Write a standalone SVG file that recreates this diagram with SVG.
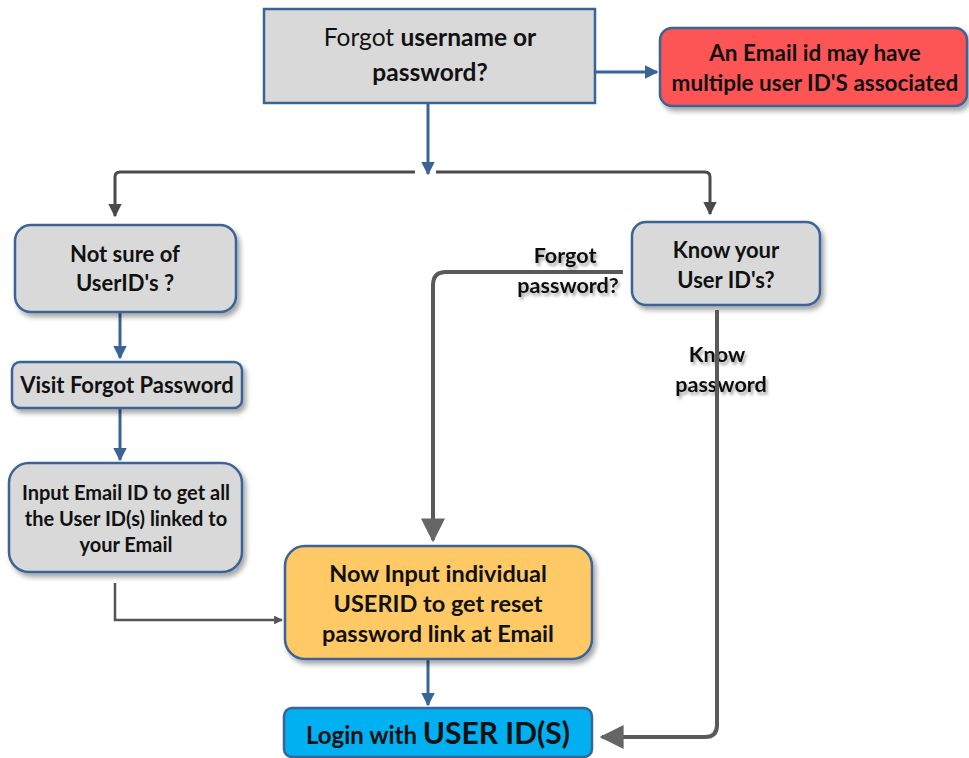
<svg xmlns="http://www.w3.org/2000/svg" width="969" height="758" viewBox="0 0 969 758">
<defs>
<filter id="sh" x="-10%" y="-10%" width="130%" height="140%">
<feDropShadow dx="3" dy="4" stdDeviation="2.5" flood-color="#000" flood-opacity="0.35"/>
</filter>
<filter id="tsh" x="-10%" y="-20%" width="130%" height="160%">
<feDropShadow dx="2" dy="3" stdDeviation="1.5" flood-color="#000" flood-opacity="0.35"/>
</filter>
<marker id="ab" viewBox="0 0 10 10" refX="9" refY="5" markerWidth="4.5" markerHeight="4.5" orient="auto" markerUnits="strokeWidth">
<path d="M0,0 L10,5 L0,10 z" fill="#3a6396"/>
</marker>
<marker id="ag" viewBox="0 0 10 10" refX="9" refY="5" markerWidth="4.5" markerHeight="4.5" orient="auto" markerUnits="strokeWidth">
<path d="M0,0 L10,5 L0,10 z" fill="#4a4a4a"/>
</marker>
<marker id="ag2" viewBox="0 0 10 10" refX="9" refY="5" markerWidth="3.5" markerHeight="3.5" orient="auto" markerUnits="strokeWidth">
<path d="M0,0 L10,5 L0,10 z" fill="#555"/>
</marker>
<marker id="ag3" viewBox="0 0 10 10" refX="9" refY="5" markerWidth="6" markerHeight="6" orient="auto" markerUnits="strokeWidth">
<path d="M0,0 L10,5 L0,10 z" fill="#666"/>
</marker>
</defs>
<style>
text{font-family:Lato,"Open Sans",sans-serif;fill:#111;text-anchor:middle}
.b{font-weight:bold}
.box{stroke:#3a6396;stroke-width:2.5}
.grey{fill:#d9d9d9}
.blue{fill:none;stroke:#3a6396;stroke-width:3}
.gl{fill:none;stroke:#4a4a4a;stroke-width:3}
.gt{fill:none;stroke:#595959;stroke-width:4}
.lbl{font-weight:bold;font-size:21.5px;filter:url(#tsh)}
</style>

<g id="connectors">
<line class="blue" x1="595" y1="72" x2="657" y2="72" marker-end="url(#ab)"/>
<line class="blue" x1="428" y1="103" x2="428" y2="174" marker-end="url(#ab)"/>
<path class="gl" d="M415,172 H120 Q115,172 115,177 V216" marker-end="url(#ag)"/>
<path class="gl" d="M436,172 H705 Q710,172 710,177 V214" marker-end="url(#ag)"/>
<line class="blue" x1="120" y1="312" x2="120" y2="358" marker-end="url(#ab)"/>
<line class="blue" x1="120" y1="408" x2="120" y2="460" marker-end="url(#ab)"/>
<path fill="none" stroke="#555" stroke-width="2.5" d="M115,583 V620 H282" marker-end="url(#ag2)"/>
<path class="gt" d="M623,272 H446 Q433,272 433,285 V540" marker-end="url(#ag3)"/>
<line class="blue" x1="428" y1="659" x2="428" y2="705" marker-end="url(#ab)"/>
</g>

<g id="n-top">
<rect class="box grey" x="264" y="9" width="331" height="94"/>
<text x="430" y="46" font-size="24.5">Forgot <tspan class="b">username or</tspan></text>
<text x="430" y="81" font-size="24.5" class="b">password?</text>
</g>

<g id="n-note">
<rect class="box" x="660" y="28" width="307" height="78" rx="12" fill="#fd5454" filter="url(#sh)"/>
<text x="815" y="61" font-size="22.5" class="b">An Email id may have</text>
<text x="815" y="91" font-size="22.5" class="b">multiple user ID'S associated</text>
</g>

<g id="n-notsure">
<rect class="box grey" x="15" y="225" width="221" height="87" rx="16" filter="url(#sh)"/>
<text x="125" y="262" font-size="22" class="b">Not sure of</text>
<text x="125" y="291" font-size="22" class="b">UserID's ?</text>
</g>

<g id="n-visit">
<rect class="box grey" x="12" y="362" width="230" height="46" rx="8" filter="url(#sh)"/>
<text x="127" y="393" font-size="22" class="b">Visit Forgot Password</text>
</g>

<g id="n-input">
<rect class="box grey" x="9" y="463" width="233" height="109" rx="20" filter="url(#sh)"/>
<text x="126" y="500" font-size="20" class="b">Input Email ID to get all</text>
<text x="126" y="526" font-size="20" class="b">the User ID(s) linked to</text>
<text x="126" y="552" font-size="20" class="b">your Email</text>
</g>

<g id="n-know">
<rect class="box grey" x="632" y="222" width="188" height="83" rx="14" filter="url(#sh)"/>
<text x="726" y="258" font-size="22" class="b">Know your</text>
<text x="726" y="288" font-size="22" class="b">User ID's?</text>
</g>

<g id="labels">
<text x="565" y="263" class="lbl">Forgot</text>
<text x="568" y="293" class="lbl">password?</text>
<text x="717" y="362" class="lbl">Know</text>
<text x="721" y="392" class="lbl">password</text>
</g>

<g id="connectors-2">
<path class="gt" d="M717,310 V725 Q717,737 705,737 H602" marker-end="url(#ag3)"/>
</g>

<g id="n-reset">
<rect class="box" x="285" y="546" width="307" height="113" rx="20" fill="#ffc966" filter="url(#sh)"/>
<text x="438" y="582" font-size="23.5" class="b">Now Input individual</text>
<text x="438" y="612" font-size="23.5" class="b">USERID to get reset</text>
<text x="438" y="642" font-size="23.5" class="b">password link at Email</text>
</g>

<g id="n-login">
<rect class="box" x="284" y="708" width="308" height="49" rx="8" fill="#00b0f0"/>
<text x="438" y="744" class="b"><tspan font-size="24">Login with </tspan><tspan font-size="30">USER ID(S)</tspan></text>
</g>
</svg>
